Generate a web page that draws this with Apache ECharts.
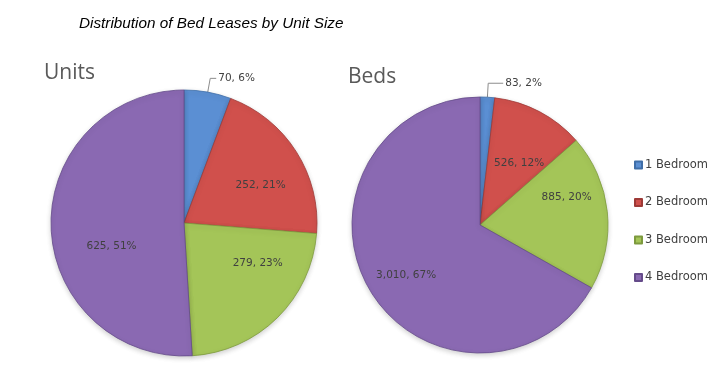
<!DOCTYPE html>
<html>
<head>
<meta charset="utf-8">
<script src="https://cdn.jsdelivr.net/npm/echarts@6/dist/echarts.min.js"></script>
<style>
  html, body { margin: 0; padding: 0; background: #fff; }
  #chart { width: 723px; height: 389px; }
</style>
</head>
<body>
<div id="chart"></div>
<script>
// ---- Data ----
const categories = ['1 Bedroom', '2 Bedroom', '3 Bedroom', '4 Bedroom'];
const unitsValues = [70, 252, 279, 625];
const bedsValues = [83, 526, 885, 3010];
const chartTitle = 'Distribution of Bed Leases by Unit Size';
const pieTitles = ['Units', 'Beds'];

// ---- Styling ----
const colors = ['#5b8fd3', '#d0504c', '#a4c558', '#8a69b2'];
const borders = ['#3f6ea8', '#9e3a37', '#7d9a3e', '#654b8a'];
const labelFont = { fontFamily: 'DejaVu Sans', fontSize: 10.5, color: '#404040' };

// label nudges (layout only) relative to ECharts' inside-label position
const unitsNudge = [[0, 0], [18, 0], [25, -9], [-3, 21]];
const bedsNudge = [[0, 0], [8, -2], [20, -21], [-16, 16]];

function buildData(values) {
  return categories.map((name, i) => ({
    name: name,
    value: values[i],
    itemStyle: { color: colors[i], borderColor: borders[i] },
    label: i === 0 ? { position: 'outside' } : { position: 'inside' },
    labelLine: { show: i === 0 }
  }));
}

function fmt(p) {
  return p.value.toLocaleString('en-US') + ', ' + Math.round(p.percent) + '%';
}

function makeSeries(values, center, radius, nudge, lineLen, lineLen2) {
  return {
    type: 'pie',
    center: center,
    radius: radius,
    startAngle: 90,
    clockwise: true,
    avoidLabelOverlap: false,
    itemStyle: { borderWidth: 0.8, shadowBlur: 5, shadowOffsetY: 2, shadowColor: 'rgba(0,0,0,0.18)' },
    label: Object.assign({ formatter: fmt, distanceToLabelLine: 2 }, labelFont),
    labelLine: { length: lineLen, length2: lineLen2, lineStyle: { color: '#8c8c8c', width: 1 } },
    labelLayout: function (params) {
      const n = nudge[params.dataIndex];
      if (params.dataIndex === 0) return {};
      return { dx: n[0], dy: n[1] };
    },
    emphasis: { disabled: true },
    data: buildData(values)
  };
}

const chart = echarts.init(document.getElementById('chart'), null, { renderer: 'canvas' });
chart.setOption({
  animation: false,
  backgroundColor: '#ffffff',
  title: [
    { text: chartTitle, left: 74, top: 11,
      textStyle: { fontFamily: 'Liberation Sans', fontStyle: 'italic', fontWeight: 'normal', fontSize: 15.3, color: '#000' } },
    { text: pieTitles[0], left: 39, top: 58,
      textStyle: { fontFamily: 'Open Sans', fontWeight: 'normal', fontSize: 21, color: '#595959' } },
    { text: pieTitles[1], left: 343, top: 62,
      textStyle: { fontFamily: 'Open Sans', fontWeight: 'normal', fontSize: 21, color: '#595959' } }
  ],
  legend: {
    orient: 'vertical',
    left: 629,
    top: 154,
    itemWidth: 7,
    itemHeight: 7,
    itemGap: 25.5,
    icon: 'rect',
    data: categories,
    textStyle: { fontFamily: 'DejaVu Sans', fontSize: 11.5, color: '#404040', padding: [0, 0, 0, -2] }
  },
  series: [
    makeSeries(unitsValues, [184, 223], 133, unitsNudge, 14, 6),
    makeSeries(bedsValues, [480, 225], 128, bedsNudge, 14, 15)
  ]
});
</script>
</body>
</html>
